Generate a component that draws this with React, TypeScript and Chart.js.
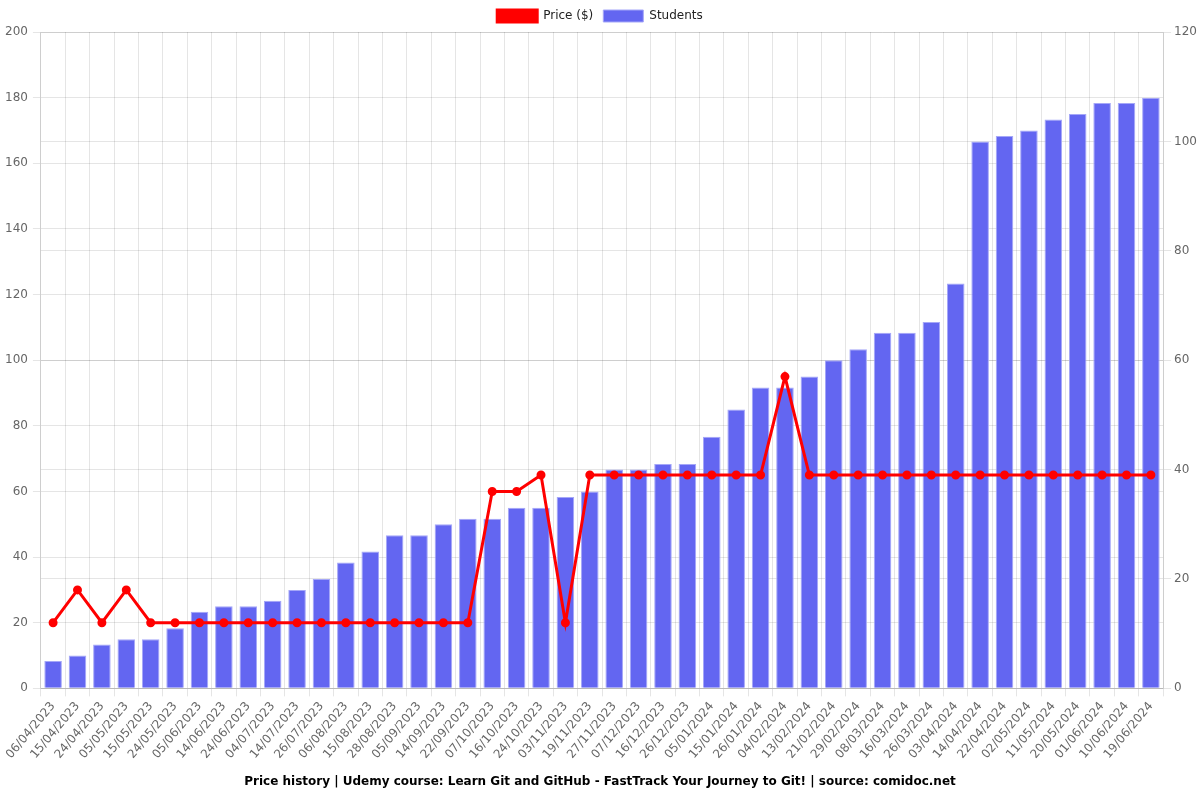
import React, { useEffect, useRef } from "react";
import { Chart, registerables } from "chart.js";

Chart.register(...registerables);

const labels = [
  "06/04/2023", "15/04/2023", "24/04/2023", "05/05/2023", "15/05/2023", "24/05/2023",
  "05/06/2023", "14/06/2023", "24/06/2023", "04/07/2023", "14/07/2023", "26/07/2023",
  "06/08/2023", "15/08/2023", "28/08/2023", "05/09/2023", "14/09/2023", "22/09/2023",
  "07/10/2023", "16/10/2023", "24/10/2023", "03/11/2023", "19/11/2023", "27/11/2023",
  "07/12/2023", "16/12/2023", "26/12/2023", "05/01/2024", "15/01/2024", "26/01/2024",
  "04/02/2024", "13/02/2024", "21/02/2024", "29/02/2024", "08/03/2024", "16/03/2024",
  "26/03/2024", "03/04/2024", "14/04/2024", "22/04/2024", "02/05/2024", "11/05/2024",
  "20/05/2024", "01/06/2024", "10/06/2024", "19/06/2024",
];

const price = [
  20, 30, 20, 30, 20, 20, 20, 20, 20, 20, 20, 20, 20, 20, 20, 20, 20, 20,
  60, 60, 65, 20, 65, 65, 65, 65, 65, 65, 65, 65, 95, 65, 65, 65, 65, 65,
  65, 65, 65, 65, 65, 65, 65, 65, 65, 65,
];

const students = [
  5, 6, 8, 9, 9, 11, 14, 15, 15, 16, 18, 20, 23, 25, 28, 28, 30, 31,
  31, 33, 33, 35, 36, 40, 40, 41, 41, 46, 51, 55, 55, 57, 60, 62, 65, 65,
  67, 74, 100, 101, 102, 104, 105, 107, 107, 108,
];

const titleText =
  "Price history | Udemy course: Learn Git and GitHub - FastTrack Your Journey to Git! | source: comidoc.net";

export default function App() {
  const ref = useRef<HTMLCanvasElement | null>(null);
  useEffect(() => {
    if (!ref.current) return;
    Chart.defaults.font.family = "'DejaVu Sans', sans-serif";
    const chart = new Chart(ref.current, {
      type: "bar",
      data: {
        labels,
        datasets: [
          {
            type: "line",
            label: "Price ($)",
            data: price,
            borderColor: "#ff0000",
            backgroundColor: "#ff0000",
            borderWidth: 3,
            pointRadius: 3,
            pointBackgroundColor: "#ff0000",
            yAxisID: "y",
          },
          {
            type: "bar",
            label: "Students",
            data: students,
            backgroundColor: "rgba(99,102,241,1)",
            borderColor: "rgba(165,167,248,1)",
            borderWidth: 1,
            yAxisID: "y1",
          },
        ],
      },
      options: {
        responsive: false,
        animation: false,
        plugins: {
          legend: {
            position: "top",
            labels: { color: "#222", font: { size: 12 } },
          },
          title: {
            display: true,
            position: "bottom",
            text: titleText,
            color: "#000",
            font: { size: 12, weight: "bold" },
            padding: { top: 10, bottom: 11 },
          },
        },
        scales: {
          x: {
            ticks: { color: "#666", maxRotation: 50, minRotation: 50, autoSkip: false, font: { size: 12 } },
            grid: { color: "rgba(0,0,0,0.1)" },
          },
          y: {
            position: "left",
            min: 0,
            max: 200,
            ticks: { stepSize: 20, color: "#666", font: { size: 12 }, padding: 5 },
            grid: { color: "rgba(0,0,0,0.1)" },
          },
          y1: {
            position: "right",
            min: 0,
            max: 120,
            ticks: { stepSize: 20, color: "#666", font: { size: 12 } },
            grid: { color: "rgba(0,0,0,0.1)" },
          },
        },
      },
    });
    return () => chart.destroy();
  }, []);
  return (
    <div style={{ position: "fixed", left: 0, top: 0, width: 1200, height: 800, background: "#fff" }}>
      <canvas ref={ref} width={1200} height={800} />
    </div>
  );
}
